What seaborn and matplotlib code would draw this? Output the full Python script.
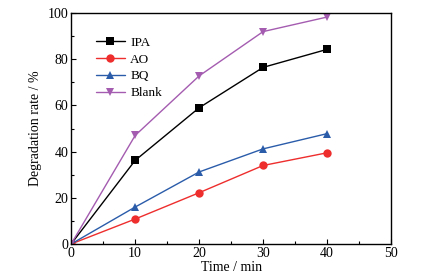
import pandas as pd
import seaborn as sns
from matplotlib import pyplot as plt
from matplotlib.ticker import MultipleLocator

TIME = [0, 10, 20, 30, 40]
IPA = [0, 36.2, 59.0, 76.5, 84.3]
AO = [0, 10.8, 22.2, 34.0, 39.5]
BQ = [0, 16.0, 31.2, 41.2, 47.8]
BLANK = [0, 47.0, 72.8, 92.0, 98.3]

SERIES = ['IPA', 'AO', 'BQ', 'Blank']
COLORS = ['#000000', '#ee2d2d', '#2a5caa', '#a45cb0']
MARKERS = ['s', 'o', '^', 'v']

df = pd.DataFrame({'Time': TIME, 'IPA': IPA, 'AO': AO, 'BQ': BQ, 'Blank': BLANK})
tidy = df.melt(id_vars='Time', var_name='Sample', value_name='Rate')

sns.set_style('ticks')
plt.rcParams['font.family'] = ['Liberation Serif', 'DejaVu Serif']
plt.rcParams['xtick.direction'] = 'in'
plt.rcParams['ytick.direction'] = 'in'
plt.rcParams['text.color'] = 'black'
plt.rcParams['axes.labelcolor'] = 'black'
plt.rcParams['xtick.color'] = 'black'
plt.rcParams['ytick.color'] = 'black'
plt.rcParams['axes.edgecolor'] = 'black'

fig = plt.figure(figsize=(4.21, 2.79), dpi=100)
ax = fig.add_axes([0.169, 0.1255, 0.76, 0.8275])

sns.lineplot(data=tidy, x='Time', y='Rate', hue='Sample', style='Sample',
             hue_order=SERIES, style_order=SERIES, palette=COLORS,
             markers=MARKERS, dashes=False, markersize=6, linewidth=1.0,
             markeredgewidth=0, ax=ax)

ax.set_xlim(0, 50)
ax.set_ylim(0, 100)
ax.xaxis.set_major_locator(MultipleLocator(10))
ax.xaxis.set_minor_locator(MultipleLocator(5))
ax.yaxis.set_major_locator(MultipleLocator(20))
ax.yaxis.set_minor_locator(MultipleLocator(10))
ax.tick_params(which='major', length=3.5, width=0.8, labelsize=10, pad=2)
ax.tick_params(which='minor', length=2, width=0.8)
for s in ax.spines.values():
    s.set_linewidth(1.0)
ax.set_xlabel('Time / min', fontsize=10, labelpad=1)
ax.set_ylabel('Degradation rate / %', fontsize=10, labelpad=4)

ax.legend(title='', frameon=False, fontsize=9.5, loc='upper left',
          bbox_to_anchor=(0.04, 0.95), handlelength=2.2, labelspacing=0.35,
          handletextpad=0.4)

fig.savefig('out.png', dpi=100)
